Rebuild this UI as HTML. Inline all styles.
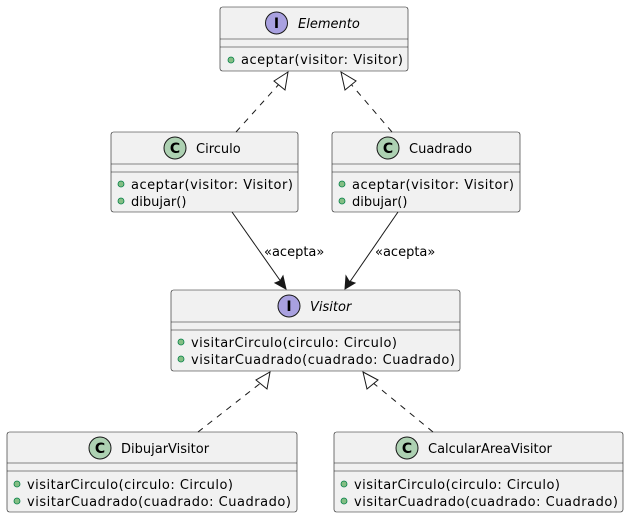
<!DOCTYPE html>
<html><head><meta charset="utf-8"><style>
html,body{margin:0;padding:0;background:#fff;}
svg{display:block;}
text{font-family:"DejaVu Sans","Liberation Sans",sans-serif;font-size:13px;fill:#000;}
.box{fill:#f1f1f1;stroke:#181818;stroke-width:0.6;}
.div{stroke:#181818;stroke-width:0.6;}
.dot{fill:#84be84;stroke:#038048;stroke-width:0.8;}
.ln{stroke:#181818;stroke-width:1;fill:none;}
.dash{stroke:#181818;stroke-width:1;fill:none;stroke-dasharray:6,6;}
</style></head><body>
<svg width="629" height="518" viewBox="0 0 629 518" xmlns="http://www.w3.org/2000/svg">
<!-- Elemento -->
<rect class="box" x="220" y="7" width="188" height="64" rx="2.5"/>
<line class="div" x1="220" y1="39" x2="408" y2="39"/><line class="div" x1="220" y1="47" x2="408" y2="47"/>
<circle cx="276.5" cy="23" r="11" fill="#a9a1e0" stroke="#181818" stroke-width="1"/>
<text x="276.5" y="28" text-anchor="middle" style="font-weight:bold;font-size:14px">I</text>
<text x="298" y="28" style="font-style:italic">Elemento</text>
<circle class="dot" cx="231" cy="60" r="3"/>
<text x="241" y="64" textLength="162">aceptar(visitor: Visitor)</text>

<!-- Circulo -->
<rect class="box" x="111" y="132" width="187" height="80" rx="2.5"/>
<line class="div" x1="111" y1="164" x2="298" y2="164"/><line class="div" x1="111" y1="172" x2="298" y2="172"/>
<circle cx="175" cy="148" r="11" fill="#add1b2" stroke="#181818" stroke-width="1"/>
<text x="175" y="153" text-anchor="middle" style="font-weight:bold;font-size:14px">C</text>
<text x="196" y="153">Circulo</text>
<circle class="dot" cx="121" cy="184" r="3"/>
<text x="131" y="189" textLength="162">aceptar(visitor: Visitor)</text>
<circle class="dot" cx="121" cy="201" r="3"/>
<text x="131" y="206">dibujar()</text>

<!-- Cuadrado -->
<rect class="box" x="332" y="132" width="188" height="80" rx="2.5"/>
<line class="div" x1="332" y1="164" x2="520" y2="164"/><line class="div" x1="332" y1="172" x2="520" y2="172"/>
<circle cx="388" cy="148" r="11" fill="#add1b2" stroke="#181818" stroke-width="1"/>
<text x="388" y="153" text-anchor="middle" style="font-weight:bold;font-size:14px">C</text>
<text x="409" y="153">Cuadrado</text>
<circle class="dot" cx="342" cy="184" r="3"/>
<text x="352" y="189" textLength="162">aceptar(visitor: Visitor)</text>
<circle class="dot" cx="342" cy="201" r="3"/>
<text x="352" y="206">dibujar()</text>

<!-- Visitor -->
<rect class="box" x="171" y="290" width="289" height="81" rx="2.5"/>
<line class="div" x1="171" y1="322" x2="460" y2="322"/><line class="div" x1="171" y1="330" x2="460" y2="330"/>
<circle cx="289" cy="306" r="11" fill="#a9a1e0" stroke="#181818" stroke-width="1"/>
<text x="289" y="311" text-anchor="middle" style="font-weight:bold;font-size:14px">I</text>
<text x="310" y="311" style="font-style:italic">Visitor</text>
<circle class="dot" cx="181" cy="342" r="3"/>
<text x="191" y="347" textLength="206">visitarCirculo(circulo: Circulo)</text>
<circle class="dot" cx="181" cy="359" r="3"/>
<text x="191" y="364" textLength="264">visitarCuadrado(cuadrado: Cuadrado)</text>

<!-- DibujarVisitor -->
<rect class="box" x="7" y="432" width="290" height="80" rx="2.5"/>
<line class="div" x1="7" y1="463" x2="297" y2="463"/><line class="div" x1="7" y1="471" x2="297" y2="471"/>
<circle cx="100" cy="448" r="11" fill="#add1b2" stroke="#181818" stroke-width="1"/>
<text x="100" y="453" text-anchor="middle" style="font-weight:bold;font-size:14px">C</text>
<text x="121" y="453">DibujarVisitor</text>
<circle class="dot" cx="17" cy="484" r="3"/>
<text x="27" y="489" textLength="206">visitarCirculo(circulo: Circulo)</text>
<circle class="dot" cx="17" cy="501" r="3"/>
<text x="27" y="506" textLength="264">visitarCuadrado(cuadrado: Cuadrado)</text>

<!-- CalcularAreaVisitor -->
<rect class="box" x="334" y="432" width="289" height="80" rx="2.5"/>
<line class="div" x1="334" y1="463" x2="623" y2="463"/><line class="div" x1="334" y1="471" x2="623" y2="471"/>
<circle cx="407" cy="448" r="11" fill="#add1b2" stroke="#181818" stroke-width="1"/>
<text x="407" y="453" text-anchor="middle" style="font-weight:bold;font-size:14px">C</text>
<text x="428" y="453">CalcularAreaVisitor</text>
<circle class="dot" cx="344" cy="484" r="3"/>
<text x="354" y="489" textLength="206">visitarCirculo(circulo: Circulo)</text>
<circle class="dot" cx="344" cy="501" r="3"/>
<text x="354" y="506" textLength="264">visitarCuadrado(cuadrado: Cuadrado)</text>

<!-- realization arrows -->
<path class="dash" d="M236,132 L280,83"/>
<polygon points="288,72 285,90 274,81" fill="#fff" stroke="#181818" stroke-width="1"/>
<path class="dash" d="M392,132 L350,83"/>
<polygon points="341,72 356,81 345,90" fill="#fff" stroke="#181818" stroke-width="1"/>
<path class="dash" d="M198,432 L262,382"/>
<polygon points="270,372 267,389 256,380" fill="#fff" stroke="#181818" stroke-width="1"/>
<path class="dash" d="M433,432 L372,382"/>
<polygon points="363,372 378,380 367,389" fill="#fff" stroke="#181818" stroke-width="1"/>

<!-- dependency arrows -->
<path class="ln" d="M232,212 L284,286"/>
<polygon points="286,289 275,283 280,281 283,276" fill="#181818" stroke="#181818" stroke-width="1"/>
<text x="264" y="256">«acepta»</text>
<path class="ln" d="M398,212 L347,286"/>
<polygon points="345,289 346,276 349,281 355,283" fill="#181818" stroke="#181818" stroke-width="1"/>
<text x="375" y="256">«acepta»</text>
</svg>
</body></html>
